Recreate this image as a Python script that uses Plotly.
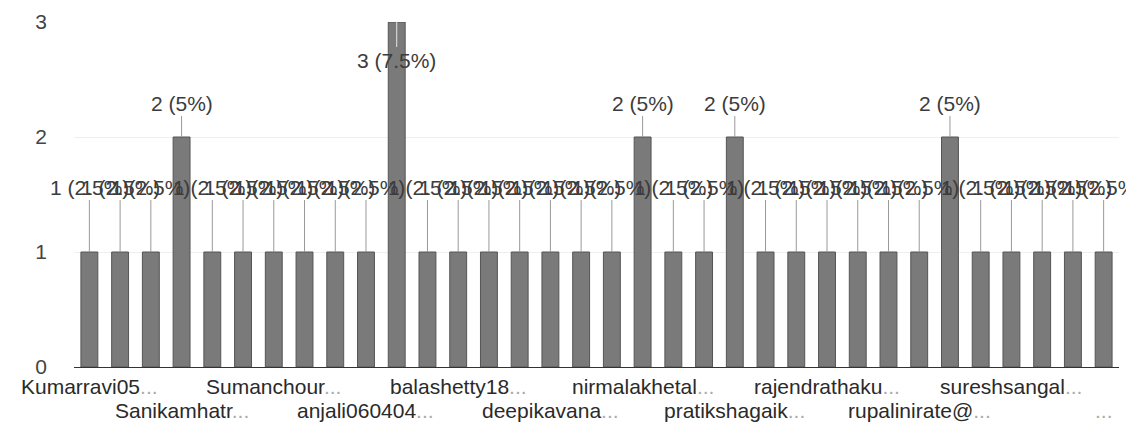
import plotly.graph_objects as go

# Data: response counts per respondent (bar order), total 40 responses
counts = [1, 1, 1, 2, 1, 1, 1, 1, 1, 1, 3, 1, 1, 1, 1, 1, 1, 1, 2, 1,
          1, 2, 1, 1, 1, 1, 1, 1, 2, 1, 1, 1, 1, 1]
total_responses = 40

# Visible (truncated) category labels, one for every third bar
tick_labels = ["Kumarravi05", "Sanikamhatr", "Sumanchour", "anjali060404",
               "balashetty18", "deepikavana", "nirmalakhetal", "pratikshagaik",
               "rajendrathaku", "rupalinirate@", "sureshsangal", ""]
tick_every = 3

y_ticks = [0, 1, 2, 3]

FONT = "Liberation Sans, Arial, sans-serif"
TEXT = "#3c3c3c"

x_idx = list(range(len(counts)))

fig = go.Figure()
fig.add_trace(go.Bar(
    x=x_idx, y=counts,
    marker=dict(color="#7a7a7a", line=dict(color="#555555", width=1)),
    width=0.55, hoverinfo="skip",
))

ymax = y_ticks[-1]
annotations = []
for i, v in enumerate(counts):
    pct = v / total_responses * 100
    txt = f"{v} ({pct:g}%)"
    if v >= ymax:
        ay, acol = 38, "#e6e6e6"
    elif v >= 2:
        ay, acol = -34, "#999999"
    else:
        ay, acol = -65, "#999999"
    annotations.append(dict(
        x=i, y=v, xref="x", yref="y", text=txt,
        showarrow=True, arrowhead=0, arrowwidth=1, arrowcolor=acol,
        ax=0, ay=ay, standoff=0, startstandoff=0,
        font=dict(family=FONT, size=21, color=TEXT),
    ))

for k, lab in enumerate(tick_labels):
    xi = k * tick_every
    row = k % 2
    text = f"{lab}<span style='color:#aaaaaa'>...</span>"
    annotations.append(dict(
        x=xi, y=0, xref="x", yref="paper", yanchor="top", xanchor="center",
        yshift=-6 - 24 * row, text=text, showarrow=False,
        font=dict(family=FONT, size=21, color="#2a2a2a"),
    ))

fig.update_layout(
    width=1126, height=432,
    margin=dict(l=74, r=7, t=22, b=65),
    paper_bgcolor="white", plot_bgcolor="white",
    showlegend=False,
    bargap=0.45,
    annotations=annotations,
    font=dict(family=FONT, color=TEXT),
)
fig.update_xaxes(
    range=[-0.5, len(counts) - 0.5], showticklabels=False, showgrid=False,
    showline=True, linecolor="#333333", linewidth=1, zeroline=False,
)
fig.update_yaxes(
    range=[0, ymax], tickvals=y_ticks, showgrid=True, gridcolor="#efefef",
    zeroline=False, tickfont=dict(family=FONT, size=21, color="#444444"),
    ticklabelstandoff=26,
)

fig.write_html("out.html", config={"displayModeBar": False},
               post_script="document.body.style.margin='0';")
